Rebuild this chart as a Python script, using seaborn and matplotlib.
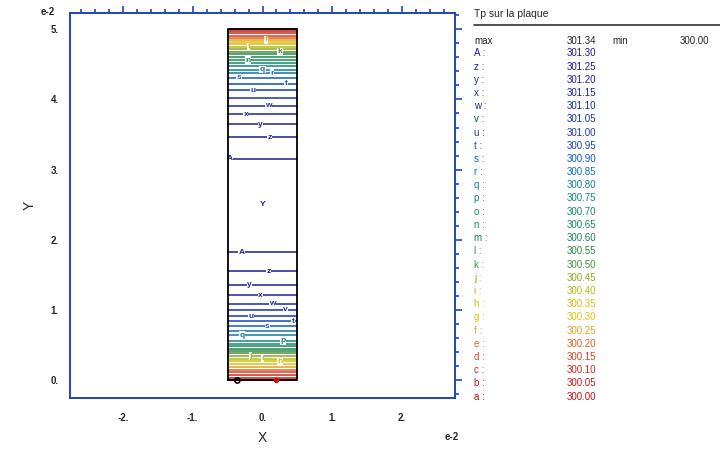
import numpy as np
import pandas as pd
import matplotlib
matplotlib.use("Agg")
import matplotlib.pyplot as plt
from matplotlib.lines import Line2D
from matplotlib.ticker import MultipleLocator, FuncFormatter
import seaborn as sns

# contour levels (letter codes + temperatures)
codes = ['a', 'b', 'c', 'd', 'e', 'f', 'g', 'h', 'i', 'j', 'k', 'l', 'm', 'n',
         'o', 'p', 'q', 'r', 's', 't', 'u', 'v', 'w', 'x', 'y', 'z', 'A']
temps = [300.00, 300.05, 300.10, 300.15, 300.20, 300.25, 300.30, 300.35, 300.40,
         300.45, 300.50, 300.55, 300.60, 300.65, 300.70, 300.75, 300.80, 300.85,
         300.90, 300.95, 301.00, 301.05, 301.10, 301.15, 301.20, 301.25, 301.30]
t_max = 301.34
t_min = 300.00

# y position (e-2) of each isotherm, lower and upper half
y_low = [0.000, 0.038, 0.075, 0.114, 0.152, 0.189, 0.227, 0.270, 0.308, 0.345,
         0.384, 0.416, 0.450, 0.487, 0.521, 0.564, 0.643, 0.710, 0.771, 0.842,
         0.913, 1.008, 1.094, 1.212, 1.364, 1.553, 1.828]
y_high = [5.000, 4.972, 4.940, 4.909, 4.878, 4.847, 4.815, 4.783, 4.750, 4.716,
          4.680, 4.645, 4.605, 4.560, 4.517, 4.474, 4.425, 4.375, 4.311, 4.226,
          4.134, 4.020, 3.911, 3.789, 3.647, 3.462, 3.158]

# plate
plate_x = [-0.5, 0.5]
plate_y = [0.0, 5.0]

# inline label positions (level, x)
lab_low = [('A', -0.30), ('z', 0.09), ('y', -0.19), ('x', -0.03), ('w', 0.14),
           ('v', 0.33), ('u', -0.16), ('t', 0.44), ('s', 0.07), ('q', -0.29),
           ('p', 0.30), ('j', -0.17), ('i', 0.0), ('h', 0.25)]
lab_high = [('A', -0.47), ('z', 0.10), ('y', -0.03), ('x', -0.24), ('w', 0.09),
            ('u', -0.14), ('s', -0.34), ('t', 0.34), ('r', 0.14), ('q', 0.0),
            ('n', -0.21), ('k', 0.25), ('i', -0.20), ('f', 0.05)]

# max / min markers
max_x, max_y = [0.0], [2.51]
min_x, min_y = [-0.36, 0.20], [0.0, 0.0]

colors = ['#c01010', '#c81818', '#d02818', '#d84020', '#e06020', '#e8a020',
          '#e0c010', '#d0c010', '#b8b818', '#90a820', '#4a9040', '#2a8848',
          '#1a8650', '#16885a', '#128a68', '#108878', '#108098', '#1070b0',
          '#1058c4', '#1448b8', '#1838aa', '#1c30a4', '#1c2a9c', '#1c2496',
          '#1c2090', '#1c1c8a', '#1c1c8a']
pal = dict(zip(codes, colors))

rows = []
for i, c in enumerate(codes):
    for half, ys in (('low', y_low), ('high', y_high)):
        for xx in plate_x:
            rows.append({'code': c, 'seg': c + half, 'x': xx, 'y': ys[i]})
df = pd.DataFrame(rows)

sns.set_style("white")
plt.rcParams['font.family'] = ['Liberation Sans', 'DejaVu Sans']

fig = plt.figure(figsize=(7.2, 4.49), dpi=100)
ax = fig.add_axes([70 / 720, 1 - 398 / 449, 385 / 720, 385 / 449])

sns.lineplot(data=df, x='x', y='y', hue='code', units='seg', estimator=None,
             palette=pal, hue_order=codes, linewidth=1.1, legend=False,
             sort=False, ax=ax)

# plate outline
ax.plot([plate_x[0], plate_x[1], plate_x[1], plate_x[0], plate_x[0]],
        [plate_y[0], plate_y[0], plate_y[1], plate_y[1], plate_y[0]],
        color='black', lw=1.3, zorder=5)

# inline labels
for labs, ys in ((lab_low, y_low), (lab_high, y_high)):
    for c, xx in labs:
        i = codes.index(c)
        ax.text(xx, ys[i], c, color=pal[c], fontsize=6, fontweight='bold',
                ha='center', va='center', zorder=4,
                bbox=dict(boxstyle='square,pad=0.05', fc='white', ec='none'))

ax.text(max_x[0], max_y[0], 'Y', color='#1c1c8a', fontsize=6, fontweight='bold',
        ha='center', va='center')
ax.scatter(min_x[:1], min_y[:1], s=14, facecolor='none', edgecolor='black',
           lw=1.2, zorder=6)
ax.scatter(min_x[1:], min_y[1:], s=8, color='#c01010', zorder=6)

ax.set_xlim(-2.76, 2.76)
ax.set_ylim(-0.25, 5.23)

blue = '#2244bb'
for s in ax.spines.values():
    s.set_color(blue)
    s.set_linewidth(1.4)
ax.xaxis.set_major_locator(MultipleLocator(1))
ax.xaxis.set_minor_locator(MultipleLocator(0.2))
ax.yaxis.set_major_locator(MultipleLocator(1))
ax.yaxis.set_minor_locator(MultipleLocator(0.2))
fmt = FuncFormatter(lambda v, p: f'{v:.0f}.')
ax.xaxis.set_major_formatter(fmt)
ax.yaxis.set_major_formatter(fmt)
ax.tick_params(which='both', direction='out', color=blue, top=True, right=True,
               width=1.2)
ax.tick_params(which='major', length=5, labelsize=7, pad=3)
ax.tick_params(axis='x', which='major', pad=6)
ax.tick_params(which='minor', length=3)
for t in ax.get_xticklabels() + ax.get_yticklabels():
    t.set_fontweight('bold')

ax.set_xlabel('X', fontsize=10, va='center')
ax.set_ylabel('Y', fontsize=10, va='center')
ax.xaxis.set_label_coords(0.5, -0.104)
ax.yaxis.set_label_coords(-0.104, 0.5)
fig.text(48 / 720, 1 - 12 / 449, 'e-2', fontsize=7, fontweight='bold',
         ha='center', va='center')
fig.text(452 / 720, 1 - 437 / 449, 'e-2', fontsize=7, fontweight='bold',
         ha='center', va='center')

# legend panel
def fy(px):
    return 1 - px / 449

fig.text(474 / 720, fy(14), 'Tp sur la plaque', fontsize=7.5, va='center')
fig.add_artist(Line2D([474 / 720, 1.0], [fy(25), fy(25)], color='#333333', lw=1.2))
fig.text(474 / 720, fy(41), 'max', fontsize=7, va='center')
fig.text(567 / 720, fy(41), f'{t_max:.2f}', fontsize=7, va='center')
fig.text(612 / 720, fy(41), 'min', fontsize=7, va='center')
fig.text(680 / 720, fy(41), f'{t_min:.2f}', fontsize=7, va='center')
for k, c in enumerate(codes[::-1]):
    py = 53.3 + k * 13.2
    fig.text(474 / 720, fy(py), f'{c} :', fontsize=7, va='center', color=pal[c])
    fig.text(567 / 720, fy(py), f'{temps[::-1][k]:.2f}', fontsize=7, va='center',
             color=pal[c])

fig.savefig('out.png', dpi=100)
